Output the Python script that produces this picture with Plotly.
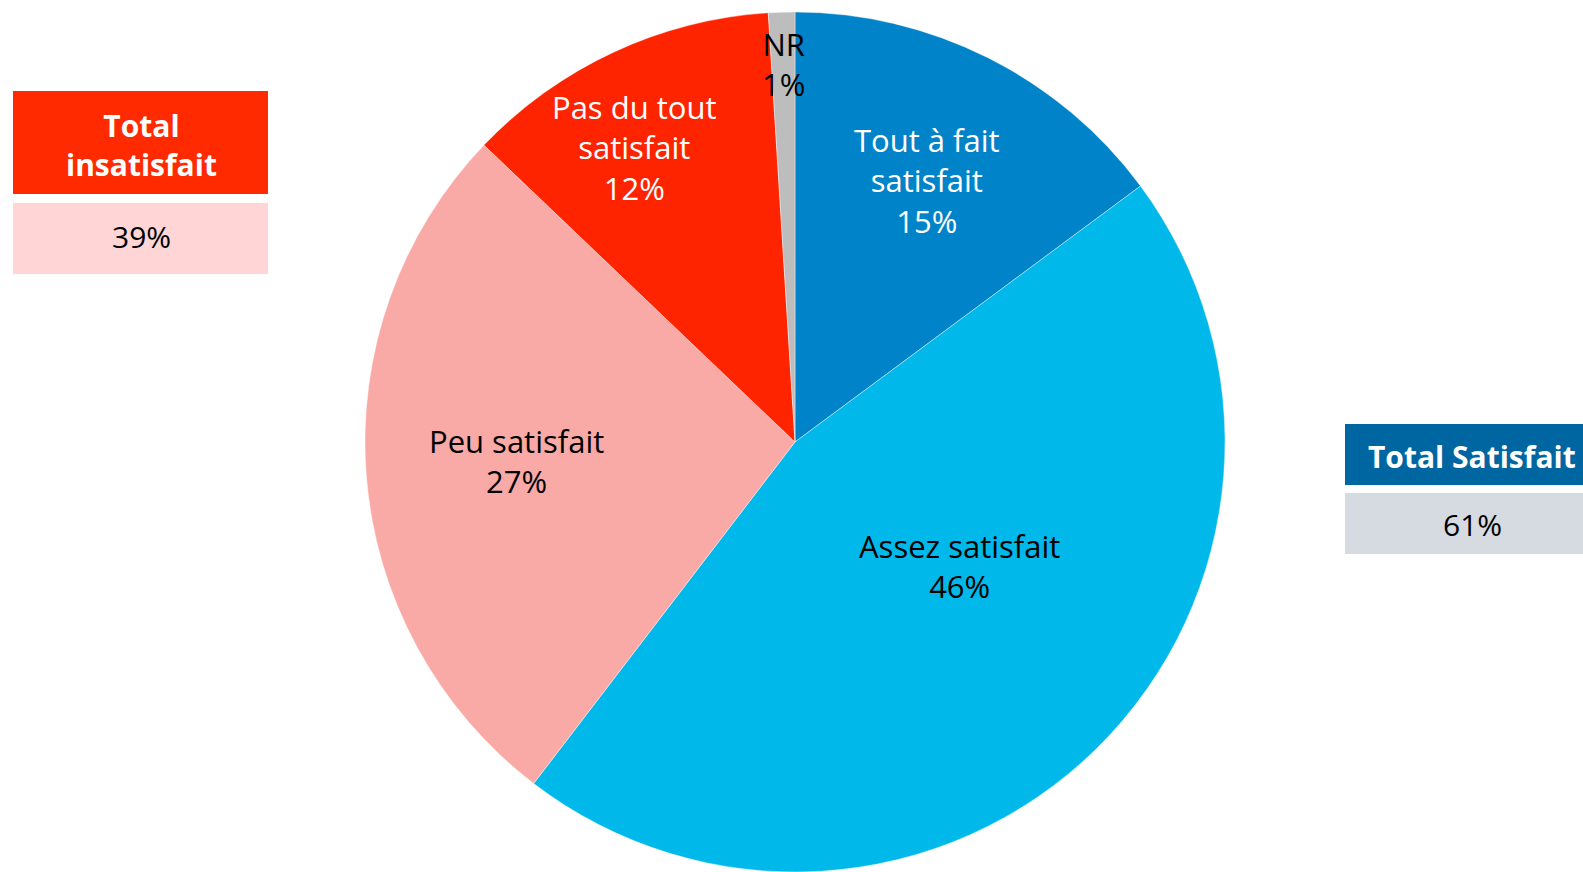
import numpy as np
from plotly import graph_objects as go

# Data
labels = ["Tout à fait<br>satisfait", "Assez satisfait", "Peu satisfait", "Pas du tout<br>satisfait", "NR"]
values = [15, 46, 27, 12, 1]
colors = ["#0083C8", "#00B9EA", "#F9AAA7", "#FF2400", "#BDBDBD"]
text_colors = ["white", "black", "black", "white", "black"]
label_radius = [0.68, 0.48, 0.65, 0.78, 0.88]
label_shift_deg = [0, -8.5, 0.5, -3.7, 0]

total_labels = ["Total<br>insatisfait", "Total Satisfait"]
total_values = ["39%", "61%"]

W, H = 1583, 872
cx, cy, r = 795, 442, 430  # pie placement in pixels

fig = go.Figure()
fig.add_trace(go.Pie(labels=labels, values=values, sort=False, direction="clockwise",
                     rotation=0, textinfo="none", hoverinfo="label+percent",
                     marker=dict(colors=colors, line=dict(color="rgba(255,255,255,0.4)", width=1)),
                     domain=dict(x=[(cx - r) / W, (cx + r) / W], y=[1 - (cy + r) / H, 1 - (cy - r) / H]),
                     showlegend=False))

# Slice labels placed along each slice's middle angle
tot = sum(values)
start = 0
for lab, v, tc, rf, sh in zip(labels, values, text_colors, label_radius, label_shift_deg):
    mid = (start + v / 2) / tot * 2 * np.pi + np.radians(sh)
    start += v
    px_x = cx + rf * r * np.sin(mid)
    px_y = cy - rf * r * np.cos(mid)
    fig.add_annotation(x=px_x / W, y=1 - px_y / H, xref="paper", yref="paper",
                       xanchor="center", yanchor="middle",
                       text=f"{lab}<br>{v}%", showarrow=False,
                       font=dict(family="Open Sans", size=31, color=tc))

# Total boxes
fig.add_shape(type="rect", xref="paper", yref="paper", x0=13 / W, x1=268 / W, y0=1 - 194 / H, y1=1 - 91 / H,
              fillcolor="#FF2A00", line=dict(width=0))
fig.add_shape(type="rect", xref="paper", yref="paper", x0=13 / W, x1=268 / W, y0=1 - 274 / H, y1=1 - 203 / H,
              fillcolor="#FFD5D5", line=dict(width=0))
fig.add_shape(type="rect", xref="paper", yref="paper", x0=1345 / W, x1=1, y0=1 - 485 / H, y1=1 - 424 / H,
              fillcolor="#0066A2", line=dict(width=0))
fig.add_shape(type="rect", xref="paper", yref="paper", x0=1345 / W, x1=1, y0=1 - 554 / H, y1=1 - 493 / H,
              fillcolor="#D6DAE1", line=dict(width=0))

box_font = dict(family="Open Sans", size=30)
fig.add_annotation(x=141 / W, y=1 - 145 / H, xref="paper", yref="paper", text=f"<b>{total_labels[0]}</b>",
                   xanchor="center", yanchor="middle", showarrow=False, font=dict(box_font, color="white"))
fig.add_annotation(x=141 / W, y=1 - 236 / H, xref="paper", yref="paper", text=total_values[0],
                   xanchor="center", yanchor="middle", showarrow=False, font=dict(box_font, color="black"))
fig.add_annotation(x=1472 / W, y=1 - 456 / H, xref="paper", yref="paper", text=f"<b>{total_labels[1]}</b>",
                   xanchor="center", yanchor="middle", showarrow=False, font=dict(box_font, color="white"))
fig.add_annotation(x=1472 / W, y=1 - 524 / H, xref="paper", yref="paper", text=total_values[1],
                   xanchor="center", yanchor="middle", showarrow=False, font=dict(box_font, color="black"))

fig.update_layout(width=W, height=H, margin=dict(l=0, r=0, t=0, b=0),
                  paper_bgcolor="white", plot_bgcolor="white")

fig.write_html("out.html", config={"displayModeBar": False},
               post_script="document.body.style.margin='0';")
